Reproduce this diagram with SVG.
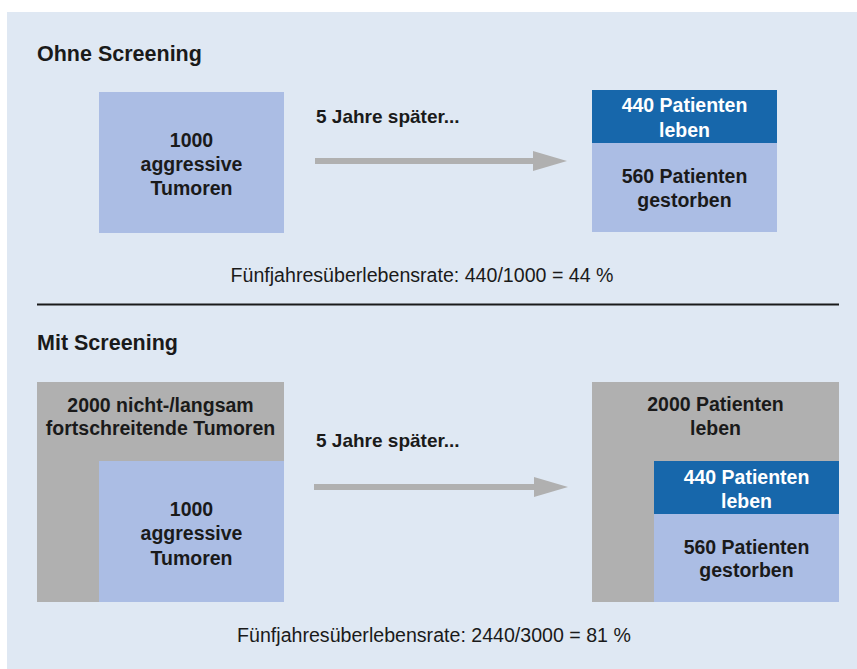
<svg xmlns="http://www.w3.org/2000/svg" width="857" height="669" viewBox="0 0 857 669">
  <style>
    text { font-family: "Liberation Sans", Arial, sans-serif; fill: #1a1a1a; }
    .title { font-size: 21.5px; font-weight: bold; }
    .lbl { font-size: 19.5px; font-weight: bold; text-anchor: middle; }
    .white { fill: #ffffff; }
    .note { font-size: 19px; font-weight: bold; }
    .rate { font-size: 19.6px; text-anchor: middle; }
    .light { fill: #abbde4; }
    .dark { fill: #1767ab; }
    .grey { fill: #b0b0b0; }
    .conn { stroke: #b0b0b0; stroke-width: 6; fill: none; }
  </style>
  <defs>
    <marker id="head" viewBox="0 0 34 20" refX="0" refY="10" markerWidth="34" markerHeight="20" markerUnits="userSpaceOnUse" orient="auto">
      <path d="M0,0 L34,10 L0,20 Z" fill="#b0b0b0"/>
    </marker>
  </defs>

  <!-- panel background -->
  <rect x="7" y="12" width="850" height="657" fill="#dfe8f3"/>

  <!-- section: without screening -->
  <text class="title" x="37" y="61">Ohne Screening</text>

  <g id="tumors-top">
    <rect class="light" x="99" y="92" width="185" height="141"/>
    <text class="lbl" x="191.5" y="147">1000</text>
    <text class="lbl" x="191.5" y="171">aggressive</text>
    <text class="lbl" x="191.5" y="195">Tumoren</text>
  </g>

  <g id="outcome-top">
    <rect class="dark" x="592" y="90" width="185" height="53"/>
    <rect class="light" x="592" y="143" width="185" height="89"/>
    <text class="lbl white" x="684.5" y="112">440 Patienten</text>
    <text class="lbl white" x="684.5" y="137">leben</text>
    <text class="lbl" x="684.5" y="183">560 Patienten</text>
    <text class="lbl" x="684.5" y="207">gestorben</text>
  </g>

  <text class="rate" x="422" y="282">Fünfjahresüberlebensrate: 440/1000 = 44 %</text>

  <!-- divider -->
  <line x1="37" y1="304.5" x2="839" y2="304.5" stroke="#1a1a1a" stroke-width="2"/>

  <!-- section: with screening -->
  <text class="title" x="37" y="350">Mit Screening</text>

  <g id="tumors-bottom">
    <rect class="grey" x="37" y="382" width="247" height="220"/>
    <text class="lbl" x="160.5" y="412">2000 nicht-/langsam</text>
    <text class="lbl" x="160.5" y="435">fortschreitende Tumoren</text>
    <rect class="light" x="99" y="461" width="185" height="141"/>
    <text class="lbl" x="191.5" y="516">1000</text>
    <text class="lbl" x="191.5" y="540">aggressive</text>
    <text class="lbl" x="191.5" y="565">Tumoren</text>
  </g>

  <g id="outcome-bottom">
    <rect class="grey" x="592" y="382" width="247" height="220"/>
    <text class="lbl" x="715.5" y="411">2000 Patienten</text>
    <text class="lbl" x="715.5" y="435">leben</text>
    <rect class="dark" x="654" y="461" width="185" height="53"/>
    <rect class="light" x="654" y="514" width="185" height="88"/>
    <text class="lbl white" x="746.5" y="484">440 Patienten</text>
    <text class="lbl white" x="746.5" y="508">leben</text>
    <text class="lbl" x="746.5" y="554">560 Patienten</text>
    <text class="lbl" x="746.5" y="577">gestorben</text>
  </g>

  <text class="rate" x="434" y="642">Fünfjahresüberlebensrate: 2440/3000 = 81 %</text>

  <!-- connectors -->
  <g id="connectors">
    <line class="conn" x1="315" y1="161" x2="533" y2="161" marker-end="url(#head)"/>
    <text class="note" x="316" y="123">5 Jahre später...</text>
    <line class="conn" x1="314" y1="487" x2="534" y2="487" marker-end="url(#head)"/>
    <text class="note" x="316" y="447">5 Jahre später...</text>
  </g>
</svg>
